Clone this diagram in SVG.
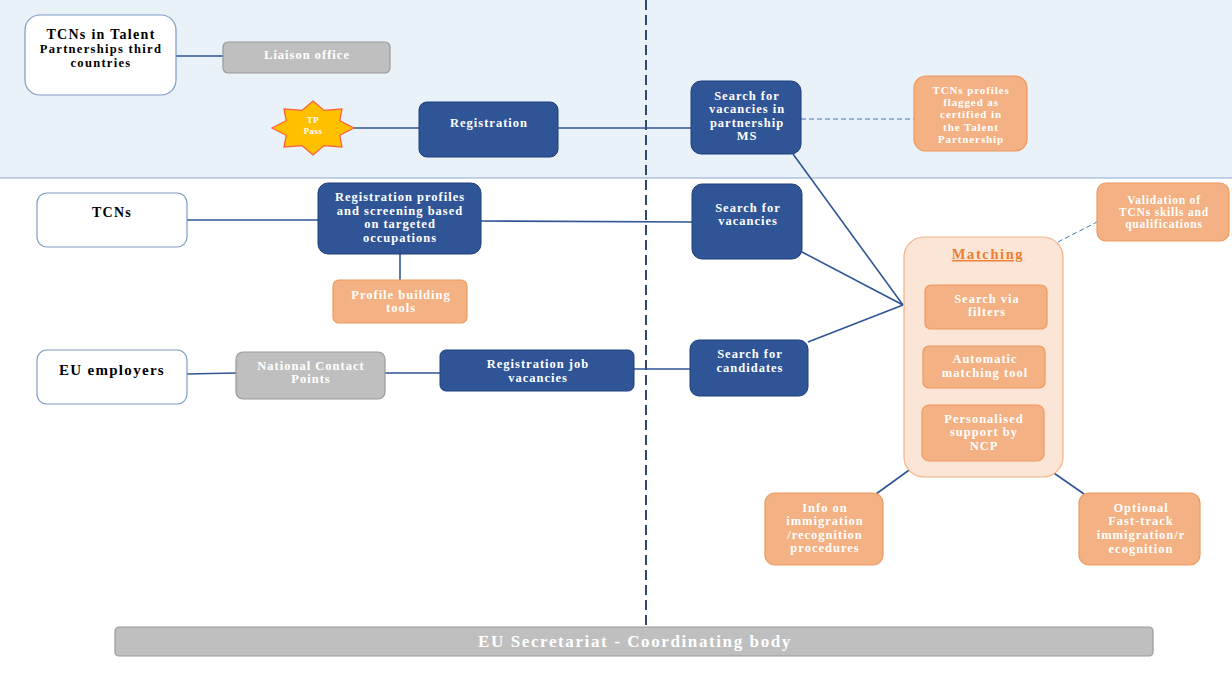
<svg xmlns="http://www.w3.org/2000/svg" width="1232" height="673" viewBox="0 0 1232 673">
<style>
text{font-family:"Liberation Serif","DejaVu Serif",serif;font-weight:bold;text-anchor:middle}
.w{fill:#ffffff;font-size:12.5px;letter-spacing:1px}
.b{fill:#000000;letter-spacing:1.3px}
.blue{fill:#2F5597;stroke:#1F3F7A;stroke-width:1}
.white{fill:#ffffff;stroke:#7E9CC6;stroke-width:1.2}
.gray{fill:#BFBFBF;stroke:#9A9A9A;stroke-width:1.2}
.orange{fill:#F4B183;stroke:#ED9A5E;stroke-width:1.2}
.con{stroke:#2F5597;stroke-width:1.6;fill:none}
.dash{stroke:#4472C4;stroke-width:1;stroke-dasharray:5,3;fill:none}
</style>
<rect x="0" y="0" width="1232" height="673" fill="#ffffff"/>
<rect x="0" y="0" width="1232" height="178" fill="#E9F1F9"/>
<line x1="0" y1="178" x2="1232" y2="178" stroke="#8EA9CF" stroke-width="1.2"/>
<line x1="646" y1="0" x2="646" y2="626" stroke="#2E4A73" stroke-width="2" stroke-dasharray="10,5"/>

<g id="connectors">
<line class="con" x1="176" y1="56" x2="223" y2="56"/>
<line class="con" x1="354" y1="128" x2="419" y2="128"/>
<line class="con" x1="558" y1="128" x2="691" y2="128"/>
<line class="dash" x1="801" y1="119" x2="914" y2="119"/>
<line class="con" x1="187" y1="220" x2="318" y2="220"/>
<line class="con" x1="481" y1="221" x2="692" y2="222"/>
<line class="con" x1="400" y1="254" x2="400" y2="280"/>
<line class="con" x1="187" y1="374" x2="236" y2="373"/>
<line class="con" x1="385" y1="373" x2="440" y2="373"/>
<line class="con" x1="634" y1="369" x2="690" y2="369"/>
<line class="con" x1="793" y1="154" x2="903" y2="305"/>
<line class="con" x1="802" y1="252" x2="903" y2="305"/>
<line class="con" x1="808" y1="342" x2="903" y2="305"/>
<line class="dash" x1="1058" y1="242" x2="1097" y2="222"/>
<line class="con" x1="876" y1="494" x2="912" y2="468"/>
<line class="con" x1="1051" y1="471" x2="1084" y2="494"/>
</g>

<g id="tcns-tp">
<rect class="white" x="25" y="15" width="151" height="80" rx="15"/>
<text class="b" font-size="14"><tspan x="101" y="39">TCNs in Talent</tspan><tspan x="101" y="53" font-size="12.5">Partnerships third</tspan><tspan x="101" y="67" font-size="12.5">countries</tspan></text>
</g>
<g id="liaison">
<rect class="gray" x="223" y="42" width="167" height="31" rx="5"/>
<text class="w" x="307" y="59">Liaison office</text>
</g>
<g id="tp-pass">
<polygon points="354,128 339.8,135.3 342,147.1 324.1,145.6 313,155 301.9,145.6 284,147.1 286.2,135.3 272,128 286.2,120.7 284,108.9 301.9,110.4 313,101 324.1,110.4 342,108.9 339.8,120.7" fill="#FFC000" stroke="#FF5A3C" stroke-width="1.2"/>
<text class="w" style="font-size:9px;letter-spacing:0.4px"><tspan x="313" y="123">TP</tspan><tspan x="313" y="134">Pass</tspan></text>
</g>
<g id="registration">
<rect class="blue" x="419" y="102" width="139" height="55" rx="8"/>
<text class="w" x="489" y="127">Registration</text>
</g>
<g id="search-ms">
<rect class="blue" x="691" y="81" width="110" height="73" rx="10"/>
<text class="w"><tspan x="747" y="100">Search for</tspan><tspan x="747" y="113">vacancies in</tspan><tspan x="747" y="127">partnership</tspan><tspan x="747" y="140">MS</tspan></text>
</g>
<g id="flagged">
<rect class="orange" x="914" y="76" width="113" height="75" rx="12"/>
<text class="w" style="font-size:11px;letter-spacing:0.9px"><tspan x="971" y="94">TCNs profiles</tspan><tspan x="971" y="106">flagged as</tspan><tspan x="971" y="118">certified in</tspan><tspan x="971" y="131">the Talent</tspan><tspan x="971" y="143">Partnership</tspan></text>
</g>
<g id="tcns">
<rect class="white" x="37" y="193" width="150" height="54" rx="10"/>
<text class="b" font-size="14" x="112" y="217">TCNs</text>
</g>
<g id="reg-profiles">
<rect class="blue" x="318" y="183" width="163" height="71" rx="10"/>
<text class="w"><tspan x="400" y="201">Registration profiles</tspan><tspan x="400" y="215">and screening based</tspan><tspan x="400" y="228">on targeted</tspan><tspan x="400" y="242">occupations</tspan></text>
</g>
<g id="profile-tools">
<rect class="orange" x="333" y="280" width="134" height="43" rx="6"/>
<text class="w"><tspan x="401" y="299">Profile building</tspan><tspan x="401" y="312">tools</tspan></text>
</g>
<g id="search-vacancies">
<rect class="blue" x="692" y="184" width="110" height="75" rx="10"/>
<text class="w"><tspan x="748" y="212">Search for</tspan><tspan x="748" y="225">vacancies</tspan></text>
</g>
<g id="eu-employers">
<rect class="white" x="37" y="350" width="150" height="54" rx="10"/>
<text class="b" font-size="15" x="112" y="375">EU employers</text>
</g>
<g id="ncp">
<rect class="gray" x="236" y="352" width="149" height="47" rx="7"/>
<text class="w"><tspan x="311" y="370">National Contact</tspan><tspan x="311" y="383">Points</tspan></text>
</g>
<g id="reg-job">
<rect class="blue" x="440" y="350" width="194" height="41" rx="6"/>
<text class="w"><tspan x="538" y="368">Registration job</tspan><tspan x="538" y="382">vacancies</tspan></text>
</g>
<g id="search-candidates">
<rect class="blue" x="690" y="340" width="118" height="56" rx="9"/>
<text class="w"><tspan x="750" y="358">Search for</tspan><tspan x="750" y="372">candidates</tspan></text>
</g>
<g id="matching">
<rect x="904" y="237" width="159" height="240" rx="20" fill="#FBE5D6" stroke="#F4B183" stroke-width="1.2"/>
<text font-size="14.5" fill="#ED7D31" x="988" y="259" text-decoration="underline" letter-spacing="1.6">Matching</text>
<g id="search-filters">
<rect class="orange" x="925" y="285" width="122" height="44" rx="6"/>
<text class="w"><tspan x="987" y="303">Search via</tspan><tspan x="987" y="316">filters</tspan></text>
</g>
<g id="auto-matching">
<rect class="orange" x="923" y="346" width="122" height="42" rx="6"/>
<text class="w"><tspan x="985" y="363">Automatic</tspan><tspan x="985" y="377">matching tool</tspan></text>
</g>
<g id="personalised">
<rect class="orange" x="922" y="405" width="122" height="56" rx="7"/>
<text class="w"><tspan x="984" y="423">Personalised</tspan><tspan x="984" y="436">support by</tspan><tspan x="984" y="450">NCP</tspan></text>
</g>
</g>
<g id="validation">
<rect class="orange" x="1097" y="183" width="132" height="58" rx="9"/>
<text class="w" style="font-size:11.5px;letter-spacing:0.8px"><tspan x="1164" y="204">Validation of</tspan><tspan x="1164" y="216">TCNs skills and</tspan><tspan x="1164" y="228">qualifications</tspan></text>
</g>
<g id="info-immigration">
<rect class="orange" x="765" y="493" width="118" height="72" rx="10"/>
<text class="w"><tspan x="825" y="512">Info on</tspan><tspan x="825" y="525">immigration</tspan><tspan x="825" y="539">/recognition</tspan><tspan x="825" y="552">procedures</tspan></text>
</g>
<g id="fast-track">
<rect class="orange" x="1079" y="493" width="121" height="72" rx="10"/>
<text class="w"><tspan x="1141" y="512">Optional</tspan><tspan x="1141" y="525">Fast-track</tspan><tspan x="1141" y="539">immigration/r</tspan><tspan x="1141" y="553">ecognition</tspan></text>
</g>
<g id="eu-secretariat">
<rect class="gray" x="115" y="627" width="1038" height="29" rx="4"/>
<text class="w" style="font-size:17px;letter-spacing:1.6px" x="635" y="647">EU Secretariat - Coordinating body</text>
</g>
</svg>
